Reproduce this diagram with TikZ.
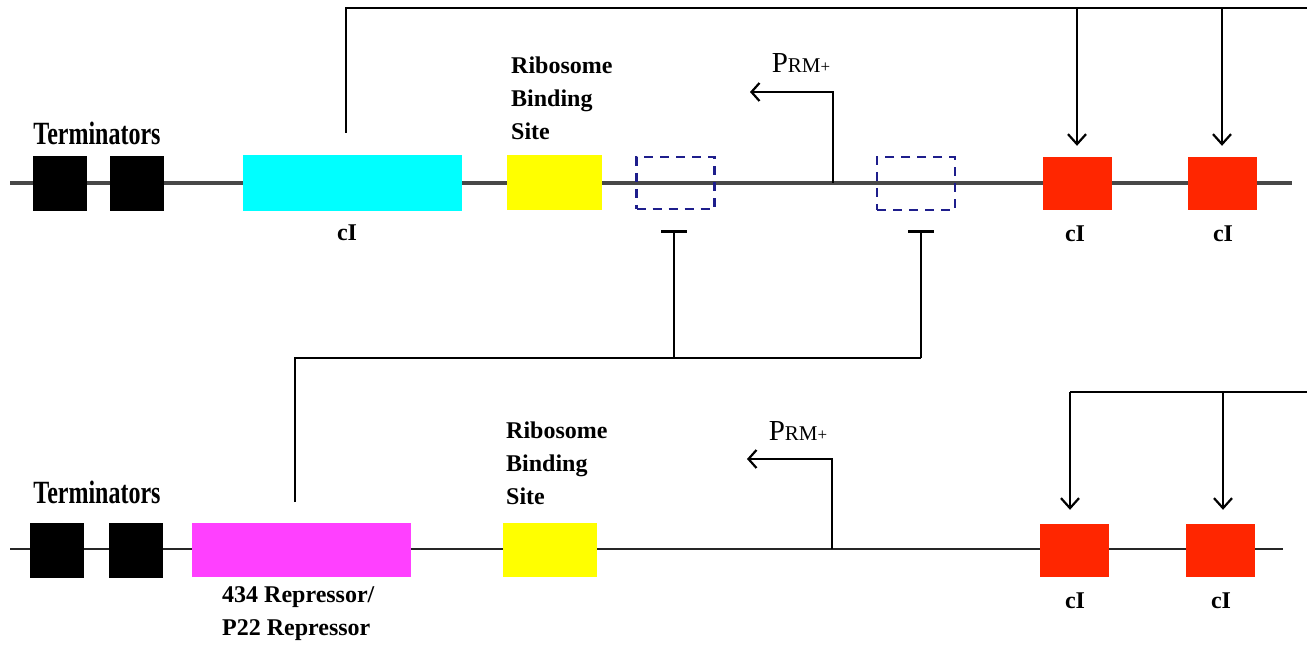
\documentclass[tikz,border=0pt]{standalone}
\usepackage{fontspec}
\setmainfont{Liberation Serif}
\usetikzlibrary{arrows.meta}
\definecolor{cyanbox}{RGB}{0,255,255}
\definecolor{yellowbox}{RGB}{255,255,0}
\definecolor{redbox}{RGB}{255,38,0}
\definecolor{magbox}{RGB}{255,64,255}
\definecolor{dashblue}{RGB}{30,30,140}
\definecolor{dnagray}{RGB}{72,72,72}
\begin{document}
\begin{tikzpicture}[x=1pt,y=-1pt,
  part/.style={inner sep=0,draw=none,minimum height=55},
  termbox/.style={part,fill=black,minimum width=54,minimum height=55},
  redpart/.style={part,fill=redbox,minimum width=69,minimum height=53},
  opbox/.style={inner sep=0,draw=dashblue,line width=2.3,dash pattern=on 9 off 7,minimum width=78,minimum height=52},
  lbl/.style={inner sep=0,font=\bfseries\fontsize{24}{33}\selectfont},
  dna/.style={draw=dnagray,line width=3.2},
  wire/.style={draw=black,line width=2.3},
  act/.style={wire,-{Straight Barb[length=10,width=18,line width=2.2]}},
  rep/.style={wire,-{Bar[width=26,line width=2.6]}},
  prom/.style={wire,-{Straight Barb[length=8,width=18,line width=2.2]}},
  prmtext/.style={inner sep=0,anchor=base}
]
\newcommand{\prmlabel}{{\fontsize{29}{29}\selectfont P}{\fontsize{21}{21}\selectfont RM}{\fontsize{17}{17}\selectfont +}}
\useasboundingbox (0,0) rectangle (1307,647);
% ---------- top construct ----------
\coordinate (tl) at (10,183);
\coordinate (tr) at (1292,183);
\draw[dna] (tl) -- (tr);
\node[termbox] (tt1) at (60,184) {};
\node[termbox] (tt2) at (137,184) {};
\node[lbl,anchor=base] (tterm) at (97,145) {\scalebox{1}[1.35]{Terminators}};
\node[part,fill=cyanbox,minimum width=219,minimum height=56] (tcyan) at (352.5,183) {};
\node[lbl,anchor=base] (tcyanl) at (347,241) {cI};
\node[part,fill=yellowbox,minimum width=95] (trbs) at (554.5,183) {};
\node[lbl,anchor=north west,align=left] (trbsl) at (511,57) {Ribosome\\Binding\\Site};
\node[opbox] (top1) at (675.5,183) {};
\node[opbox,minimum height=53] (top2) at (916,183.5) {};
\node[redpart] (tred1) at (1077.5,183.5) {};
\node[redpart] (tred2) at (1222.5,183.5) {};
\node[lbl,anchor=base] (tred1l) at (1075,242) {cI};
\node[lbl,anchor=base] (tred2l) at (1223,242) {cI};
% promoter
\coordinate (tp0) at (833,183);
\coordinate (tp1) at (833,92);
\coordinate (tp2) at (750,92);
\draw[prom] (tp0) -- (tp1) -- (tp2);
\node[prmtext] (tprm) at (801,73) {\prmlabel};
% feedback from top cI
\coordinate (tcs) at (346,133);
\coordinate (tc1) at (346,8);
\coordinate (tc2) at (1307,8);
\coordinate (ta1) at (1077,8);
\coordinate (ta2) at (1222,8);
\draw[wire] (tcs) -- (tc1) -- (tc2);
\draw[act] (ta1) -- ([yshift=11pt]ta1 |- tred1.north);
\draw[act] (ta2) -- ([yshift=11pt]ta2 |- tred2.north);
% ---------- bottom construct ----------
\coordinate (bl) at (10,549);
\coordinate (br) at (1283,549);
\draw[dna,draw=black!85,line width=2.6] (bl) -- (br);
\node[termbox] (bt1) at (57,550.5) {};
\node[termbox] (bt2) at (136,550.5) {};
\node[lbl,anchor=base] (bterm) at (97,503) {\scalebox{1}[1.35]{Terminators}};
\node[part,fill=magbox,minimum width=219,minimum height=54] (bmag) at (301.5,550) {};
\node[lbl,anchor=north west,align=left] (bmagl) at (222,586) {434 Repressor/\\P22 Repressor};
\node[part,fill=yellowbox,minimum width=94,minimum height=54] (brbs) at (550,550) {};
\node[lbl,anchor=north west,align=left] (brbsl) at (506,422) {Ribosome\\Binding\\Site};
\node[redpart] (bred1) at (1074.5,550.5) {};
\node[redpart] (bred2) at (1220.5,550.5) {};
\node[lbl,anchor=base] (bred1l) at (1075,608) {cI};
\node[lbl,anchor=base] (bred2l) at (1221,608) {cI};
% promoter
\coordinate (bp0) at (832,549);
\coordinate (bp1) at (832,459);
\coordinate (bp2) at (747,459);
\draw[prom] (bp0) -- (bp1) -- (bp2);
\node[prmtext] (bprm) at (798,440) {\prmlabel};
% feedback on bottom cI
\coordinate (bc1) at (1070,392);
\coordinate (bc2) at (1307,392);
\coordinate (ba2) at (1223,392);
\draw[wire] (bc2) -- (bc1);
\draw[act] (bc1) -- ([yshift=14pt]bc1 |- bred1.north);
\draw[act] (ba2) -- ([yshift=14pt]ba2 |- bred2.north);
% ---------- repression from 434/P22 repressor ----------
\coordinate (rs) at (295,502);
\coordinate (rc) at (295,358);
\coordinate (rj1) at (674,358);
\coordinate (rj2) at (921,358);
\coordinate (rb1) at (674,230);
\coordinate (rb2) at (921,230);
\draw[wire] (rs) -- (rc) -- (rj2);
\draw[rep] (rj1) -- (rb1);
\draw[rep] (rj2) -- (rb2);
\end{tikzpicture}
\end{document}
